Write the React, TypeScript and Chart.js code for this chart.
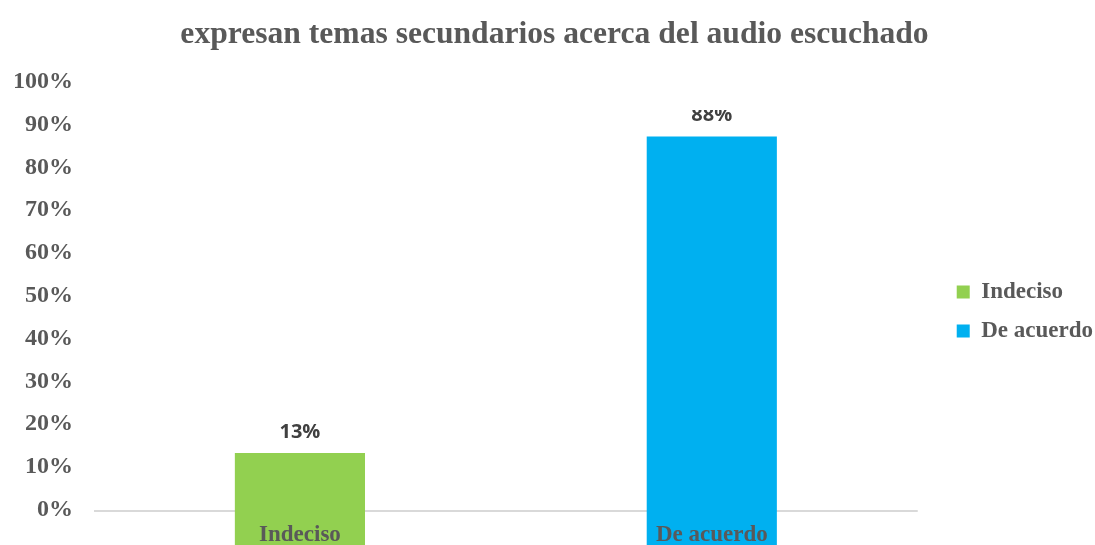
import React, { useEffect, useRef } from "react";
import { Chart, registerables } from "chart.js";

Chart.register(...registerables);

const categories = ["Indeciso", "De acuerdo"];
const values = [13.5, 87.5];
const valueLabels = ["13%", "88%"];
const colors = ["#92d050", "#00b0f0"];
const yTicks = [0, 10, 20, 30, 40, 50, 60, 70, 80, 90, 100];
const title = "expresan temas secundarios acerca del audio escuchado";

const SERIF = "'Liberation Serif', 'Times New Roman', serif";
const TEXT_GRAY = "#595959";

const overlayPlugin = {
  id: "overlayLabels",
  afterLayout(chart: any) {
    const lg = chart.legend;
    if (lg) {
      lg.left += 23;
      lg.right += 23;
      lg.top += 39;
      lg.bottom += 39;
    }
    const tb = chart.titleBlock;
    if (tb) {
      tb.left += 7;
      tb.right += 7;
    }
  },
  afterDatasetsDraw(chart: any) {
    const { ctx } = chart;
    const meta = chart.getDatasetMeta(0);
    ctx.save();
    // value labels above bars (top clipped like the original)
    ctx.save();
    ctx.beginPath();
    ctx.rect(0, 110, chart.width, chart.height);
    ctx.clip();
    ctx.font = "bold 20px 'Open Sans', 'Liberation Sans', sans-serif";
    ctx.fillStyle = "#404040";
    ctx.textAlign = "center";
    ctx.textBaseline = "alphabetic";
    meta.data.forEach((bar: any, i: number) => {
      ctx.fillText(valueLabels[i], bar.x, bar.y - 15);
    });
    ctx.restore();
    // category labels drawn over the bars
    ctx.font = `bold 23px ${SERIF}`;
    ctx.fillStyle = TEXT_GRAY;
    ctx.textAlign = "center";
    ctx.textBaseline = "alphabetic";
    meta.data.forEach((bar: any, i: number) => {
      ctx.fillText(categories[i], bar.x, 541);
    });
    ctx.restore();
  },
};

export default function App() {
  const canvasRef = useRef<HTMLCanvasElement | null>(null);

  useEffect(() => {
    document.body.style.margin = "0";
    const canvas = canvasRef.current;
    if (!canvas) return;
    const chart = new Chart(canvas, {
      type: "bar",
      data: {
        labels: categories,
        datasets: [
          {
            data: values,
            backgroundColor: colors,
            borderWidth: 0,
            base: -8,
            barPercentage: 0.316,
            categoryPercentage: 1,
          } as any,
        ],
      },
      options: {
        animation: false,
        responsive: false,
        maintainAspectRatio: false,
        layout: { padding: { left: 15, right: 15, top: 0, bottom: 0 } },
        plugins: {
          title: {
            display: true,
            text: title,
            color: TEXT_GRAY,
            font: { family: SERIF, size: 31.6, weight: "bold", lineHeight: 1.2 },
            padding: { top: 16, bottom: 29 },
          },
          legend: {
            display: true,
            position: "right",
            align: "center",
            labels: {
              boxWidth: 13,
              boxHeight: 13,
              padding: 16,
              color: TEXT_GRAY,
              font: { family: SERIF, size: 23, weight: "bold" },
              generateLabels: () =>
                categories.map((c, i) => ({
                  text: c,
                  fillStyle: colors[i],
                  strokeStyle: colors[i],
                  fontColor: TEXT_GRAY,
                  lineWidth: 0,
                  hidden: false,
                  index: i,
                  datasetIndex: 0,
                })),
            },
          },
          tooltip: { enabled: false },
        },
        scales: {
          x: {
            display: false,
            offset: true,
            grid: { display: false },
          },
          y: {
            min: -8,
            max: 100,
            afterBuildTicks: (scale: any) => {
              scale.ticks = yTicks.map((v) => ({ value: v }));
            },
            afterFit: (scale: any) => {
              scale.width = 79;
              scale.paddingTop = 0;
              scale.paddingBottom = 0;
            },
            border: { display: false },
            grid: {
              drawTicks: false,
              lineWidth: 2,
              color: (c: any) => (c.tick && c.tick.value === 0 ? "#d9d9d9" : "rgba(0,0,0,0)"),
            },
            ticks: {
              padding: 21,
              labelOffset: -1,
              color: TEXT_GRAY,
              font: { family: SERIF, size: 24, weight: "bold" },
              callback: (v: any) => `${v}%`,
            },
          },
        },
      },
      plugins: [overlayPlugin],
    });
    return () => chart.destroy();
  }, []);

  return (
    <div style={{ width: 1095, height: 545, position: "relative" }}>
      <canvas ref={canvasRef} width={1095} height={545} style={{ display: "block" }} />
    </div>
  );
}
